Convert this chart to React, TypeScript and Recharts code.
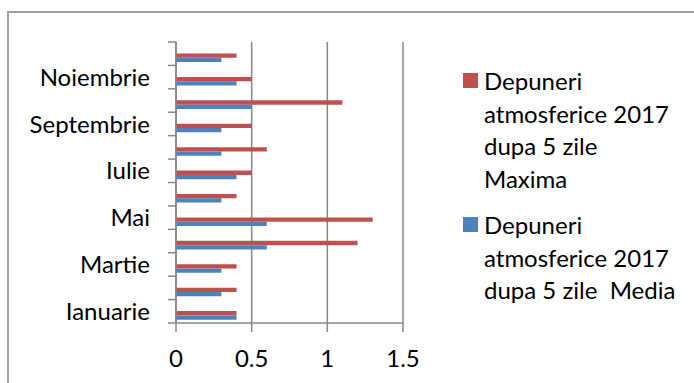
import React from 'react';
import { BarChart, Bar, XAxis, YAxis, CartesianGrid, Rectangle } from 'recharts';

const months = [
  'Ianuarie', 'Februarie', 'Martie', 'Aprilie', 'Mai', 'Iunie',
  'Iulie', 'August', 'Septembrie', 'Octombrie', 'Noiembrie', 'Decembrie'
];
const maxima = [0.4, 0.4, 0.4, 1.2, 1.3, 0.4, 0.5, 0.6, 0.5, 1.1, 0.5, 0.4];
const media = [0.4, 0.3, 0.3, 0.6, 0.6, 0.3, 0.4, 0.3, 0.3, 0.5, 0.4, 0.3];
const xTicks = [0, 0.5, 1, 1.5];

const seriesNames = {
  maxima: 'Depuneri atmosferice 2017 dupa 5 zile Maxima',
  media: 'Depuneri atmosferice 2017 dupa 5 zile  Media',
};

// legend lines wrap like the original
const legendLines = {
  maxima: ['Depuneri', 'atmosferice 2017', 'dupa 5 zile', 'Maxima'],
  media: ['Depuneri', 'atmosferice 2017', 'dupa 5 zile\u00a0\u00a0Media'],
};

const data = months.map((m, i) => ({ month: m, maxima: maxima[i], media: media[i] }));

const FONT = 'Lato, "Open Sans", sans-serif';
const AXIS = '#878787';
const RED = '#C0504D';
const BLUE = '#4F81BD';

const PLOT_TOP = 42;
const PLOT_BOTTOM = 323;
const PLOT_LEFT = 176;
const BAND = (PLOT_BOTTOM - PLOT_TOP) / months.length;

// bars sit a little below the band centre in the original
const ShiftedBar = (props: any) => <Rectangle {...props} y={props.y + 4.5} />;

const CategoryTick = (props: any) => {
  const { y, payload, index } = props;
  const showLabel = index % 2 === 0;
  return (
    <g>
      <line x1={PLOT_LEFT - 8} x2={PLOT_LEFT} y1={y - BAND / 2} y2={y - BAND / 2} stroke={AXIS} strokeWidth={1.5} />
      {index === 0 && (
        <line x1={PLOT_LEFT - 8} x2={PLOT_LEFT} y1={y + BAND / 2} y2={y + BAND / 2} stroke={AXIS} strokeWidth={1.5} />
      )}
      {showLabel && (
        <text x={PLOT_LEFT - 26} y={y} dy="0.36em" textAnchor="end" fontFamily={FONT} fontSize={24} fill="#000">
          {payload.value}
        </text>
      )}
    </g>
  );
};

const ValueTick = (props: any) => {
  const { x, payload } = props;
  return (
    <g>
      <line x1={x} x2={x} y1={PLOT_BOTTOM} y2={PLOT_BOTTOM + 9} stroke={AXIS} strokeWidth={1.5} />
      <text x={x} y={PLOT_BOTTOM + 35} dy="0.36em" textAnchor="middle" fontFamily={FONT} fontSize={24} fill="#000">
        {payload.value}
      </text>
    </g>
  );
};

const LegendBox = () => (
  <div style={{ position: 'absolute', left: 463, top: 65, fontFamily: FONT, fontSize: 24, color: '#000', lineHeight: '32.5px' }}>
    {(['maxima', 'media'] as const).map((key, k) => (
      <div key={key} title={seriesNames[key]} style={{ position: 'relative', paddingLeft: 21, marginBottom: k === 0 ? 14 : 0 }}>
        <span
          style={{
            position: 'absolute', left: 0, top: 8, width: 15, height: 15,
            background: key === 'maxima' ? RED : BLUE,
          }}
        />
        {legendLines[key].map((line, i) => (
          <div key={i} style={{ whiteSpace: 'pre' }}>{line}</div>
        ))}
      </div>
    ))}
  </div>
);

export default function App() {
  return (
    <div style={{ position: 'absolute', left: 0, top: 0, width: 694, height: 383, background: '#fff', overflow: 'hidden' }}>
      <div
        style={{
          position: 'absolute', left: 7, top: 11, width: 720, height: 400,
          border: '2px solid #a0a0a0', boxSizing: 'border-box',
        }}
      />
      <div style={{ position: 'absolute', left: 0, top: 0 }}>
        <BarChart
          width={694}
          height={383}
          data={data}
          layout="vertical"
          margin={{ top: PLOT_TOP, right: 291, bottom: 0, left: 6 }}
          barGap={0}
          barCategoryGap={0}
        >
          <CartesianGrid horizontal={false} vertical stroke={AXIS} strokeWidth={1.5} />
          <XAxis
            type="number"
            domain={[0, 1.5]}
            ticks={xTicks}
            height={60}
            axisLine={{ stroke: AXIS, strokeWidth: 1.5 }}
            tickLine={false}
            tick={<ValueTick />}
            interval={0}
          />
          <YAxis
            type="category"
            dataKey="month"
            reversed
            width={170}
            interval={0}
            axisLine={{ stroke: AXIS, strokeWidth: 1.5 }}
            tickLine={false}
            tick={<CategoryTick />}
          />
          <Bar dataKey="maxima" name={seriesNames.maxima} fill={RED} barSize={4.3} shape={<ShiftedBar />} isAnimationActive={false} />
          <Bar dataKey="media" name={seriesNames.media} fill={BLUE} barSize={4.3} shape={<ShiftedBar />} isAnimationActive={false} />
        </BarChart>
      </div>
      <LegendBox />
    </div>
  );
}
